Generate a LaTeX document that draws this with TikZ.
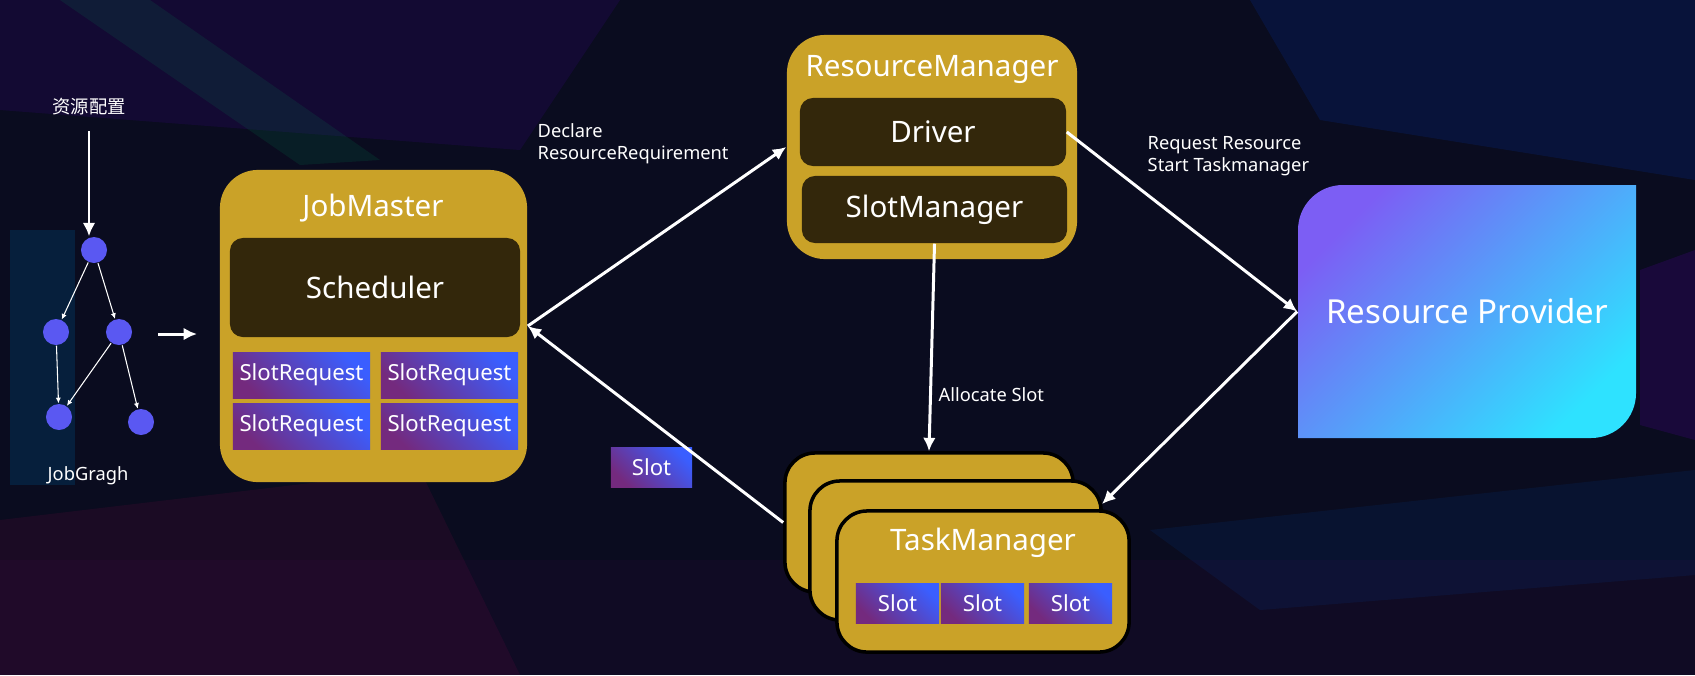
\documentclass[tikz,border=0pt]{standalone}
\usepackage{fontspec}
\setmainfont{Noto Sans}
\newfontfamily\cjk{Noto Sans CJK SC}
\usetikzlibrary{arrows.meta}

\definecolor{bgnavy}{HTML}{0A0C1F}
\definecolor{gold}{HTML}{CAA228}
\definecolor{inner}{HTML}{33270B}
\definecolor{slotpurple}{HTML}{742A7E}
\definecolor{slotblue}{HTML}{3A5EFF}
\definecolor{rppurple}{HTML}{7C5EF4}
\definecolor{rpmid}{HTML}{68AAF9}
\definecolor{rpcyan}{HTML}{2EE2FF}
\definecolor{dotblue}{HTML}{5A58F2}

\tikzset{
  goldbox/.style={fill=gold, rounded corners=0.38cm, inner sep=0pt},
  innerbox/.style={fill=inner, rounded corners=0.13cm, text=white, font=\fontsize{8.4}{10}\selectfont, inner sep=0pt},
  slotbox/.style={left color=slotpurple, right color=slotblue, shading angle=135, text=white, font=\fontsize{6.3}{7.5}\selectfont, inner sep=0pt},
  title/.style={text=white, font=\fontsize{8.4}{10}\selectfont},
  tmcard/.style={fill=gold, draw=black, line width=1pt, rounded corners=0.3cm, inner sep=0pt},
  lbl/.style={text=white, font=\fontsize{5.2}{6.3}\selectfont, align=left, inner sep=0pt},
  flow/.style={draw=white, line width=0.85pt, -{Latex[length=3.8pt,width=3.6pt]}},
  edge/.style={draw=white, line width=0.3pt, -{Latex[length=1.6pt,width=1.5pt]}},
  dot/.style={circle, fill=dotblue, minimum size=0.26cm, inner sep=0pt},
}

\begin{document}
\begin{tikzpicture}[x=0.01cm, y=-0.01cm]
  % Background
  \useasboundingbox (0,0) rectangle (1695,675);
  \fill[bgnavy] (0,0) rectangle (1695,675);
  \fill[violet!60!blue, opacity=0.14] (0,0) -- (620,0) -- (520,150) -- (0,110) -- cycle;
  \fill[teal!70!green, opacity=0.12] (60,0) -- (150,0) -- (380,160) -- (300,165) -- cycle;
  \fill[blue!40!cyan!50!black, opacity=0.3] (10,230) rectangle (75,485);
  \fill[magenta!60!red, opacity=0.08] (0,520) -- (420,470) -- (520,675) -- (0,675) -- cycle;
  \fill[violet, opacity=0.06] (0,560) -- (1695,560) -- (1695,675) -- (0,675) -- cycle;
  \fill[blue!70!cyan, opacity=0.12] (1250,0) -- (1695,0) -- (1695,180) -- (1320,120) -- cycle;
  \fill[violet!70!blue, opacity=0.2] (1640,270) -- (1695,250) -- (1695,440) -- (1640,425) -- cycle;
  \fill[teal!60!blue, opacity=0.12] (1150,530) -- (1695,470) -- (1695,575) -- (1260,610) -- cycle;

  % JobGragh
  \node[lbl, font=\cjk\fontsize{5.2}{6.3}\selectfont] (cfg) at (89,107) {资源配置};
  \node[dot] (ga) at (94,250) {};
  \node[dot] (gb) at (56,332) {};
  \node[dot] (gc) at (119,332) {};
  \node[dot] (gd) at (59,417) {};
  \node[dot] (ge) at (141,422) {};
  \node[lbl] (jg) at (88,476) {JobGragh};
  \draw[flow, shorten <=1.5mm] (cfg.south) -- (cfg.south |- ga.north);
  \draw[edge] (ga) -- (gb);
  \draw[edge] (ga) -- (gc);
  \draw[edge] (gb) -- (gd);
  \draw[edge] (gc) -- (gd);
  \draw[edge] (gc) -- (ge);
  \coordinate (gout) at (158,334);
  \coordinate (gin) at (197,334);
  \draw[flow] (gout) -- (gin);

  % JobMaster
  \node[goldbox, minimum width=3.07cm, minimum height=3.12cm] (jm) at (373.5,326) {};
  \node[title] (jmtitle) at (373,208) {JobMaster};
  \node[innerbox, minimum width=2.9cm, minimum height=0.99cm] (sched) at (375,287.5) {Scheduler};
  \foreach \x/\c in {301.5/1,449.5/2}
    \foreach \y/\r in {375/1,426/2}
      \node[slotbox, minimum width=1.37cm, minimum height=0.46cm] (sr\r\c) at (\x,\y) {SlotRequest};

  % ResourceManager
  \node[goldbox, minimum width=2.9cm, minimum height=2.24cm] (rm) at (932,147) {};
  \node[title] (rmtitle) at (932,69) {ResourceManager};
  \node[innerbox, minimum width=2.66cm, minimum height=0.68cm] (drv) at (933,132) {Driver};
  \node[innerbox, minimum width=2.65cm, minimum height=0.67cm] (sm) at (934.5,209.5) {SlotManager};

  % TaskManager stack
  \node[tmcard, minimum width=2.88cm, minimum height=1.39cm] (tmb) at (929,522.5) {};
  \node[tmcard, minimum width=2.91cm, minimum height=1.39cm] (tmm) at (955.5,550.5) {};
  \node[tmcard, minimum width=2.92cm, minimum height=1.41cm] (tmf) at (983,581.5) {};
  \node[title] (tmtitle) at (983,543) {TaskManager};
  \foreach \x [count=\i] in {897.5,982.5,1070.5}
    \node[slotbox, minimum width=0.83cm, minimum height=0.4cm] (slot\i) at (\x,603) {Slot};

  % free slot
  \node[slotbox, minimum width=0.81cm, minimum height=0.4cm] (freeslot) at (651.5,467) {Slot};

  % Resource Provider
  \shade[left color=rppurple, middle color=rpmid, right color=rpcyan, shading angle=45]
    (1298,438) -- (1298,230) .. controls (1298,205) and (1318,185) .. (1343,185)
    -- (1636,185) -- (1636,393) .. controls (1636,418) and (1616,438) .. (1591,438) -- cycle;
  \node[minimum width=3.38cm, minimum height=2.53cm, inner sep=0pt, text=white,
        font=\fontsize{9.4}{11}\selectfont] (rp) at (1467,311.5) {Resource Provider};

  % connectors
  \draw[flow] (jm.east) -- (rm.west);
  \draw[flow] (tmb.west) -- (jm.east);
  \draw[flow] (sm.south) -- (tmb.north);
  \draw[flow] (drv.east) -- (rp.west);
  \coordinate (tmin) at (1102,504);
  \draw[flow] (rp.west) -- (tmin);

  % labels
  \node[lbl, anchor=west] (declbl) at (537,144) {Declare\\ResourceRequirement};
  \node[lbl, anchor=west] (reqlbl) at (1147,156) {Request Resource\\Start Taskmanager};
  \node[lbl, anchor=west] (alloclbl) at (938,395) {Allocate Slot};
\end{tikzpicture}
\end{document}
